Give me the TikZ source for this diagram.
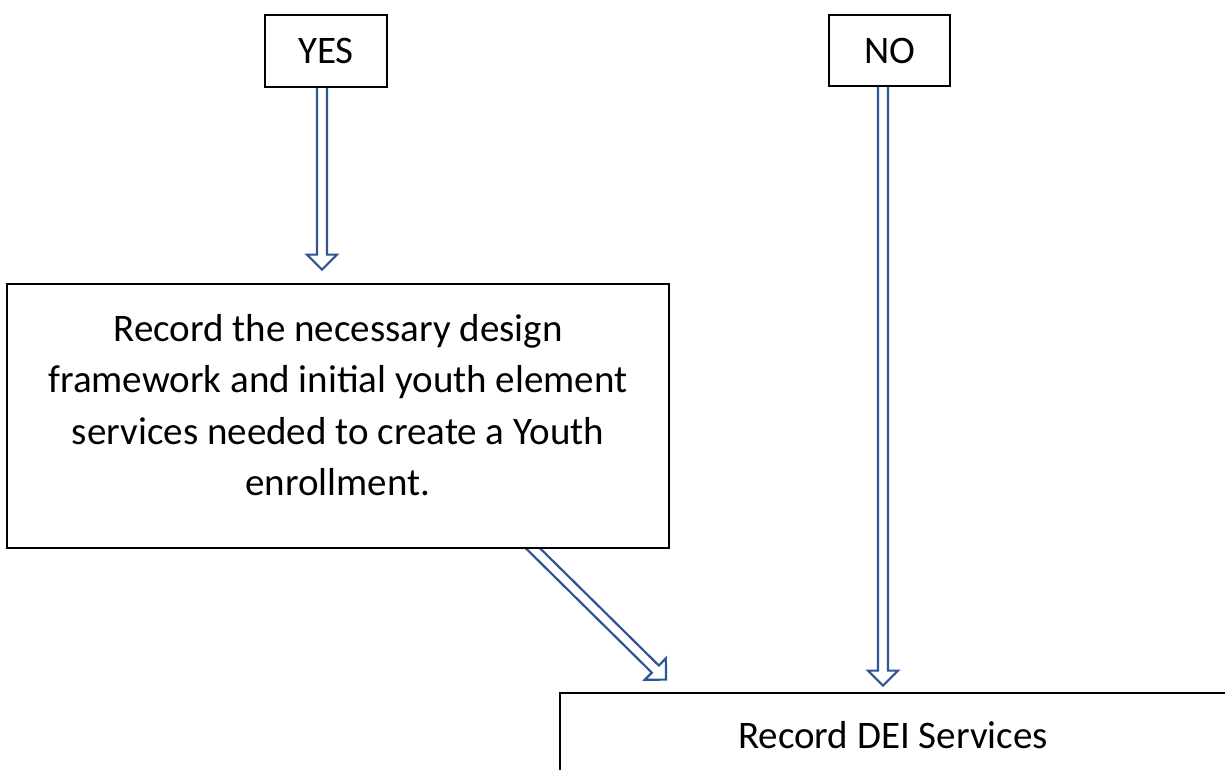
\documentclass[tikz,border=0pt]{standalone}
\usepackage{fontspec}
\setmainfont{Carlito}
\usetikzlibrary{calc,backgrounds}
\definecolor{arrowblue}{RGB}{47,85,151}
\tikzset{
  box/.style={draw=black, line width=2.8pt, fill=white, inner sep=0pt, align=center, font=\fontsize{39}{51.5}\selectfont},
  txt/.style={align=center, inner sep=0pt, font=\fontsize{39}{51.5}\selectfont},
  barrow/.style={draw=arrowblue, line width=2.2pt, fill=white, line join=miter},
}
\newcommand{\blockarrow}[2]{%
  \coordinate (hb) at ($(#2)!15pt!(#1)$);
  \draw[barrow] ($(#1)!5pt!90:(#2)$) -- ($(hb)!5pt!90:(#2)$) -- ($(hb)!15pt!90:(#2)$) -- (#2)
    -- ($(hb)!15pt!-90:(#2)$) -- ($(hb)!5pt!-90:(#2)$) -- ($(#1)!5pt!-90:(#2)$);
}
\begin{document}
\begin{tikzpicture}[x=1pt, y=-1pt]
\useasboundingbox (0,0) rectangle (1225,770);
\clip (0,0) rectangle (1225,770);
% boxes
\node[box, minimum width=122pt, minimum height=72pt] (yes) at (326,51) {YES};
\node[box, minimum width=121pt, minimum height=71pt] (no) at (889.5,50.5) {NO};
\node[box, minimum width=662pt, minimum height=264pt] (big) at (338,416) {};
\node[txt] (bigT) at ([yshift=11pt]big.center) {Record the necessary design\\framework and initial youth element\\services needed to create a Youth\\enrollment.};
\node[box, minimum width=666pt, minimum height=84pt] (dei) at (893,735) {Record DEI Services};
% connector end points
\coordinate (ya) at ([xshift=-4pt,yshift=5pt]yes.south);
\coordinate (yt) at ([xshift=-16pt,yshift=13pt]big.north);
\coordinate (na) at ([xshift=-6.5pt,yshift=5pt]no.south);
\coordinate (nt) at ([xshift=-10pt,yshift=6pt]dei.north);
\coordinate (da) at ([xshift=191pt,yshift=5pt]big.south);
\coordinate (dt) at ([xshift=-227pt,yshift=12pt]dei.north);
% connectors behind the boxes
\begin{pgfonlayer}{background}
\blockarrow{ya}{yt}
\blockarrow{na}{nt}
\blockarrow{da}{dt}
\end{pgfonlayer}
\end{tikzpicture}
\end{document}
